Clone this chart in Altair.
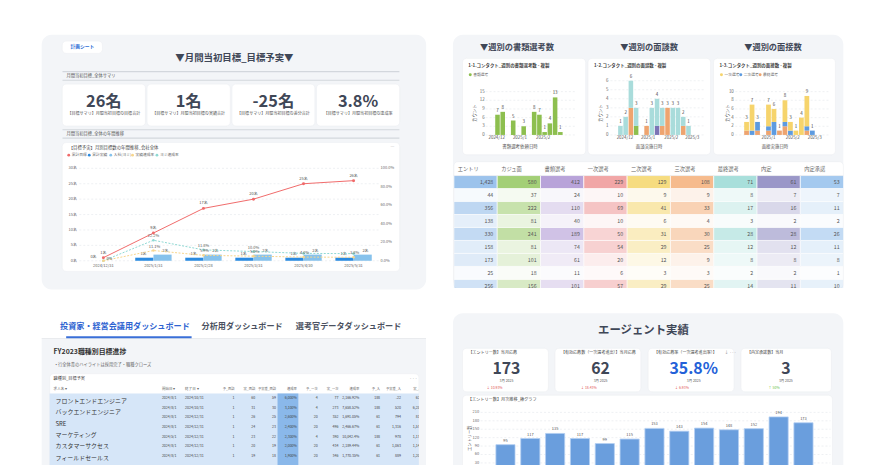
import altair as alt
import pandas as pd

# ============================================================ data
tl_kpi_values = ["26名", "1名", "-25名", "3.8%"]
tl_kpi_labels = ["【目標サマリ】月間当初目標の目標合計", "【目標サマリ】月間当初目標の実績合計",
                 "【目標サマリ】月間当初目標の差分合計", "【目標サマリ】月間当初目標の達成率"]
tl_legend = ["累計目標", "累計実績", "入社(ヨミ)", "実績達成率", "ヨミ達成率"]
tl_legend_colors = ["#f06a6a", "#2b8be0", "#86c2ec", "#f7d58c", "#8fd9d3"]
tl_months = ["2024/12/31", "2025/1/31", "2025/2/28", "2025/3/31", "2025/4/30", "2025/5/31"]
tl_target = [1, 9, 17, 20, 25, 26]
tl_actual = [0, 1, 1, 1, 1, 1]
tl_yomi = [0, 2, 2, 2, 2, 2]
tl_actual_rate = [0.0, 11.1, 5.9, 5.0, 4.0, 3.8]
tl_yomi_rate = [0.0, 22.2, 11.8, 10.0, 8.0, 7.7]
tl_yomi_rate_shown = ["", "22.2%", "11.8%", "10.0%", "", ""]
tl_left_ticks = [0, 5, 10, 15, 20, 25, 30]
tl_right_ticks = [0, 20, 40, 60, 80, 100]

doc_weeks = ["2024-12-02", "2024-12-09", "2024-12-23", "2025-01-06", "2025-01-20",
             "2025-01-27", "2025-02-03", "2025-02-10", "2025-02-17", "2025-02-24"]
doc_counts = [7, 8, 5, 3, 8, 7, 1, 4, 13, 1]
doc_ticks = [0, 3, 6, 9, 12, 15]
doc_months = ["2024-12-01", "2025-01-01", "2025-02-01"]

meet_weeks = ["2024-11-25", "2024-12-02", "2024-12-09", "2024-12-16", "2024-12-30", "2025-01-06",
              "2025-01-13", "2025-01-20", "2025-01-27", "2025-02-03", "2025-02-10", "2025-02-17", "2025-02-24"]
meet_orange = [0, 0, 3, 0, 1, 0, 0, 1, 3, 0, 0, 1, 0]
meet_green = [0, 0, 0, 1, 0, 0, 0, 0, 0, 0, 0, 0, 0]
meet_purple = [0, 0, 0, 0, 0, 0, 1, 0, 0, 0, 0, 0, 0]
meet_teal = [1, 2, 3, 2, 0, 3, 3, 2, 0, 3, 3, 1, 1]
meet_ticks = [0, 1, 2, 3, 4, 5, 6]
meet_months = ["2024-12-01", "2025-01-01", "2025-02-01", "2025-03-01"]

intv_weeks = ["2024-12-04", "2024-12-11", "2024-12-18", "2025-01-01", "2025-01-08", "2025-01-15",
              "2025-01-22", "2025-01-29", "2025-02-05", "2025-02-12", "2025-02-19", "2025-02-26"]
intv_final = [1, 0, 1, 1, 0, 1, 2, 0, 0, 0, 1, 0]
intv_second = [0, 1, 2, 1, 3, 0, 1, 1, 0, 0, 1, 1]
intv_first = [2, 6, 0, 5, 3, 0, 5, 2, 1, 4, 7, 0]
intv_ticks = [0, 2, 4, 6, 8, 10]
intv_months = ["2025-01-01", "2025-02-01", "2025-03-01"]

tbl_cols = ["エントリ", "カジュ面", "書類選考", "一次選考", "二次選考", "三次選考", "最終選考", "内定", "内定承諾"]
tbl_colors = ["#9cc3ec", "#a3cf76", "#b8a3d9", "#f1a6a6", "#f6dc80", "#f6bb8d", "#a8dfdb", "#9a97c8", "#a4c9ef"]
tbl_rows = [
    [1428, 580, 412, 229, 129, 108, 71, 61, 53],
    [44, 37, 24, 10, 9, 9, 8, 7, 7],
    [356, 222, 110, 69, 41, 33, 17, 16, 11],
    [138, 81, 40, 10, 6, 4, 3, 2, 2],
    [330, 241, 189, 50, 31, 30, 28, 28, 26],
    [158, 81, 74, 54, 29, 25, 12, 12, 11],
    [173, 101, 61, 20, 12, 9, 8, 8, 8],
    [25, 18, 11, 6, 3, 3, 2, 2, 1],
    [256, 156, 101, 57, 29, 25, 14, 11, 10],
]

tabs = ["投資家・経営会議用ダッシュボード", "分析用ダッシュボード", "選考官データダッシュボード"]
job_names = ["フロントエンドエンジニア", "バックエンドエンジニア", "SRE", "マーケティング", "カスタマーサクセス", "フィールドセールス"]
job_start = ["2024/8/1", "2024/8/1", "2024/8/1", "2024/8/1", "2024/5/1", "2024/8/1", "2024/8/1"]
job_end = ["2024/10/31", "2024/10/31", "2024/12/31", "2024/12/31", "2024/12/31", "2024/12/31", "2024/12/31"]
job_headers = ["予_面談", "実_面談", "予実差_面談", "達成率", "予_一次", "実_一次", "達成率", "予_入", "予実差_入", "実_入"]
job_plan_int = ["1", "1", "1", "1", "1", "1", "1"]
job_act_int = ["60", "31", "26", "24", "23", "20", "19"]
job_diff_int = ["59", "30", "25", "23", "22", "19", "18"]
job_rate_int = ["6,000%", "3,100%", "2,600%", "2,400%", "2,300%", "2,000%", "1,900%"]
job_plan_1st = ["4", "4", "20", "20", "4", "20", "20"]
job_act_1st = ["77", "273", "352", "496", "390", "434", "346"]
job_rate_1st = ["2,166.92%", "7,658.52%", "1,691.05%", "2,466.67%", "10,042.4%", "2,189.44%", "1,770.35%"]
job_plan_hire = ["188", "188", "61", "61", "188", "61", "61"]
job_diff_hire = ["-22", "520", "794", "1,316", "978", "1,063", "889"]
job_act_hire = ["626", "6,256", "818", "1,572", "1,176", "1,146", "1,208"]

br_kpi_titles = ["【エントリー数】当月応募", "【有効応募数（一次選考進出）】当月応募",
                 "【有効応募率（一次選考進出率）】", "【内定承諾数】当月"]
br_kpi_values = ["173", "62", "35.8%", "3"]
br_kpi_period = ["3月 2025", "3月 2025", "3月 2025", "3月 2025"]
br_kpi_delta = ["↓ 10.93%", "↓ 18.43%", "↓ 6.93%", "↑ 50%"]
br_months = ["2024/3", "2024/4", "2024/5", "2024/6", "2024/7", "2024/8", "2024/9",
             "2024/10", "2024/11", "2024/12", "2025/1", "2025/2", "2025/3"]
br_values = [95, 117, 135, 117, 99, 115, 153, 143, 154, 148, 152, 194, 173]
br_ticks = [30, 60, 90, 120, 150, 180, 210]

# ============================================================ style / helpers
O = 8  # page margin


def p(v):
    return v - O


def tms(s):
    return pd.Timestamp(s).value // 10**6


PAGE = "#ffffff"
PANEL = "#f3f5f8"
CARD = "#ffffff"
DARK = "#3f4757"
FONT = "Noto Sans CJK JP"


def rect_layer(rows, fill, radius=0, stroke=None, sw=0.0):
    df = pd.DataFrame(rows, columns=["x", "y", "x2", "y2"]) - O
    kw = dict(fill=fill, cornerRadius=radius)
    if stroke:
        kw.update(stroke=stroke, strokeWidth=sw)
    else:
        kw.update(strokeWidth=0)
    return alt.Chart(df).mark_rect(**kw).encode(
        x=alt.X("x:Q", scale=None), x2="x2:Q", y=alt.Y("y:Q", scale=None), y2="y2:Q")


def text_layer(rows, align="left", weight="normal", baseline="middle", angle=0):
    df = pd.DataFrame(rows, columns=["x", "y", "t", "s", "c"])
    df["x"] = df["x"] - O
    df["y"] = df["y"] - O
    mk = dict(align=align, baseline=baseline, fontWeight=weight)
    if angle:
        mk["angle"] = angle
    return alt.Chart(df).mark_text(**mk).encode(
        x=alt.X("x:Q", scale=None), y=alt.Y("y:Q", scale=None), text="t:N",
        size=alt.Size("s:Q", scale=None), color=alt.Color("c:N", scale=None))


def dot_layer(rows):
    df = pd.DataFrame(rows, columns=["x", "y", "c", "s"])
    df["x"] = df["x"] - O
    df["y"] = df["y"] - O
    return alt.Chart(df).mark_circle(opacity=1).encode(
        x=alt.X("x:Q", scale=None), y=alt.Y("y:Q", scale=None),
        color=alt.Color("c:N", scale=None), size=alt.Size("s:Q", scale=None))


layers = []

# ============================================================ panels & cards
layers.append(rect_layer([(42, 33, 430, 290), (457, 33, 851, 290), (457, 314, 851, 480)], PANEL, radius=10))
layers.append(rect_layer([(42, 314, 430, 480)], CARD, radius=10))
layers.append(rect_layer([(42, 339.5, 430, 480)], PANEL))
layers.append(rect_layer([(42, 339, 430, 339.8)], "#e3e6ea"))
layers.append(rect_layer([(66.7, 337.2, 193.3, 339.3)], "#3a6fd8"))
tl_cards = [(62.7, 39.3, 103.3, 51.7), (62.7, 82.7, 146.7, 125), (148.3, 82.7, 232.3, 125),
            (234, 82.7, 317.7, 125), (319.3, 82.7, 403.3, 125), (62.7, 141.7, 403.3, 271.7)]
tr_cards = [(466.7, 56.7, 591, 154), (593.3, 56.7, 717, 154), (720, 56.7, 843, 154), (458, 161, 851, 289)]
br_cards = [(466.7, 349.3, 553.3, 393.3), (560, 349.3, 646.7, 393.3), (654, 349.3, 740.7, 393.3),
            (747.7, 349.3, 839, 393.3), (466.7, 396.7, 840, 480)]
bl_cards = [(50, 375, 422.7, 480)]
layers.append(rect_layer(tl_cards + tr_cards + br_cards + bl_cards, CARD, radius=4, stroke="#eceef2", sw=0.6))
layers.append(rect_layer([(63, 69.6, 403, 70.8), (63, 78.2, 403, 79.4),
                          (63, 128.2, 403, 129.4), (63, 136.6, 403, 137.8)], "#d3d7dd"))

# ============================================================ TL texts
kpi_cx = [(a[0] + a[2]) / 2 for a in tl_cards[1:5]]
layers.append(text_layer([(83, 45.6, "計画シート", 4.8, "#2f6fd6"),
                          (236.5, 56.5, "▼月間当初目標_目標予実▼", 9.5, DARK)]
                         + [(cx, 100.5, v, 16.5, DARK) for cx, v in zip(kpi_cx, tl_kpi_values)],
                         align="center", weight="bold"))
layers.append(text_layer([(cx, 113, t, 4.1, "#555") for cx, t in zip(kpi_cx, tl_kpi_labels)], align="center"))
layers.append(text_layer([(67, 74.3, "月間当初目標_全体サマリ", 4.3, "#555"),
                          (67, 132.8, "月間当初目標_全体の年間推移", 4.3, "#555"),
                          (69.3, 147.4, "【目標予実】月別目標数の年間推移_会社全体", 4.4, "#444"),
                          (394, 146.5, "—", 4.5, "#bbbbbb")]
                         + [(x + 3, 154.4, t, 3.8, "#666") for x, t in zip([69.3, 90, 111.7, 133.7, 158.3], tl_legend)]))
layers.append(dot_layer([(x, 154.4, c, 8) for x, c in zip([69.3, 90, 111.7, 133.7, 158.3], tl_legend_colors)]))

# ============================================================ TL chart
tl_df = pd.DataFrame({"m": tl_months, "target": tl_target, "actual": tl_actual, "yomi": tl_yomi,
                      "ar": tl_actual_rate, "yr": tl_yomi_rate})
tl_df["t_lbl"] = [f"{v}名" for v in tl_target]
tl_df["a_lbl"] = [f"{v}名" for v in tl_actual]
tl_df["y_lbl"] = [f"{v}名" if v else "" for v in tl_yomi]
tl_df["ar_lbl"] = [f"{v:.1f}%" if v else "0%" for v in tl_actual_rate]
tl_df["yr_lbl"] = tl_yomi_rate_shown

tl_xs = alt.Scale(domain=tl_months, range=[p(79), p(382)], paddingInner=0.27, paddingOuter=0.135)
tl_x = alt.X("m:N", axis=None, scale=tl_xs)
tl_yl = alt.Scale(domain=[0, 30], range=[p(261), p(167.7)], nice=False)
tl_yr = alt.Scale(domain=[0, 100], range=[p(261), p(167.7)], nice=False)

lt = pd.DataFrame({"v": tl_left_ticks, "lbl": [f"{v}名" for v in tl_left_ticks]})
rt = pd.DataFrame({"v": tl_right_ticks, "lbl": [f"{v:.1f}%" for v in tl_right_ticks]})
base_tl = alt.Chart(tl_df)
tl_left = alt.layer(
    alt.Chart(lt).mark_rule(color="#e2e5ea", strokeDash=[2, 2], strokeWidth=0.6).encode(
        y=alt.Y("v:Q", scale=tl_yl, axis=None), x=alt.value(p(80)), x2=alt.value(p(382))),
    alt.Chart(lt).mark_text(align="right", fontSize=4, color="#666").encode(
        y=alt.Y("v:Q", scale=tl_yl, axis=None), x=alt.value(p(77.5)), text="lbl:N"),
    base_tl.mark_text(fontSize=4, color="#555").encode(x=tl_x, y=alt.value(p(266)), text="m:N"),
    base_tl.mark_bar(color="#2b8be0", width=18.3, xOffset=-9.2).encode(
        x=tl_x, y=alt.Y("actual:Q", scale=tl_yl, axis=None)),
    base_tl.mark_bar(color="#86c2ec", width=18.3, xOffset=9.2).encode(
        x=tl_x, y=alt.Y("yomi:Q", scale=tl_yl, axis=None)),
    base_tl.mark_text(fontSize=4, color="#555", dx=-10, dy=-4).encode(
        x=tl_x, y=alt.Y("actual:Q", scale=tl_yl, axis=None), text="a_lbl:N"),
    base_tl.mark_text(fontSize=4, color="#555", dx=12, dy=-4).encode(
        x=tl_x, y=alt.Y("yomi:Q", scale=tl_yl, axis=None), text="y_lbl:N"),
    base_tl.mark_line(color="#f06a6a", strokeWidth=1,
                      point=alt.OverlayMarkDef(color="#f06a6a", size=9, filled=True)).encode(
        x=tl_x, y=alt.Y("target:Q", scale=tl_yl, axis=None)),
    base_tl.mark_text(fontSize=4, color="#555", dy=-5).encode(
        x=tl_x, y=alt.Y("target:Q", scale=tl_yl, axis=None), text="t_lbl:N"),
)
tl_right = alt.layer(
    alt.Chart(rt).mark_text(align="left", fontSize=4, color="#666").encode(
        y=alt.Y("v:Q", scale=tl_yr, axis=None), x=alt.value(p(384)), text="lbl:N"),
    base_tl.mark_line(color="#8fd9d3", strokeWidth=1, strokeDash=[2, 1.5],
                      point=alt.OverlayMarkDef(color="#8fd9d3", size=7, filled=True)).encode(
        x=tl_x, y=alt.Y("yr:Q", scale=tl_yr, axis=None)),
    base_tl.mark_line(color="#f7d58c", strokeWidth=1, strokeDash=[2, 1.5],
                      point=alt.OverlayMarkDef(color="#f7d58c", size=7, filled=True)).encode(
        x=tl_x, y=alt.Y("ar:Q", scale=tl_yr, axis=None)),
    base_tl.mark_text(fontSize=4, color="#555", dy=-4).encode(
        x=tl_x, y=alt.Y("yr:Q", scale=tl_yr, axis=None), text="yr_lbl:N"),
    base_tl.transform_filter("datum.ar > 0").mark_text(fontSize=4, color="#555", dy=-4, dx=1).encode(
        x=tl_x, y=alt.Y("ar:Q", scale=tl_yr, axis=None), text="ar_lbl:N"),
    base_tl.transform_filter("datum.ar == 0").mark_text(fontSize=4, color="#555", dy=-1.5, dx=6).encode(
        x=tl_x, y=alt.Y("ar:Q", scale=tl_yr, axis=None), text="ar_lbl:N"),
)
layers.append(alt.layer(tl_left, tl_right).resolve_scale(y="independent"))

# ============================================================ TR weekly charts
layers.append(text_layer([(521.7, 46.7, "▼週別の書類選考数", 8.3, DARK),
                          (655, 46.7, "▼週別の面談数", 8.3, DARK),
                          (780, 46.7, "▼週別の面接数", 8.3, DARK)], align="center", weight="bold"))
layers.append(text_layer([(472.5, 64.3, "1-1.コンタクト_週別の書類選考数 - 複製", 4.5, "#444"),
                          (599.5, 64.3, "1-2.コンタクト_週別の面談数 - 複製", 4.5, "#444"),
                          (726, 64.3, "1-3.コンタクト_週別の面接数 - 複製", 4.5, "#444")], weight="bold"))
layers.append(text_layer([(477.5, 73.3, "書類選考", 3.8, "#666"),
                          (731, 73.3, "一次選考", 3.8, "#666"),
                          (750.5, 73.3, "二次選考", 3.8, "#666"),
                          (770, 73.3, "最終選考", 3.8, "#666")]))
layers.append(dot_layer([(474.5, 73.3, "#8dbf4f", 9), (728, 73.3, "#f6d46c", 9),
                         (747.5, 73.3, "#5d9be0", 9), (767, 73.3, "#eea46f", 9)]))
layers.append(text_layer([(524.7, 146.6, "書類選考依頼日時", 4.5, "#555"),
                          (655, 146.6, "面談実施日時", 4.5, "#555"),
                          (782, 146.6, "面接実施日時", 4.5, "#555")], align="center"))
layers.append(text_layer([(479.3, 112, "カウント", 4.5, "#555"), (606, 112, "カウント", 4.5, "#555"),
                          (734.5, 112, "カウント", 4.5, "#555")], align="center", angle=270))


def weekly_axes(xs, ys, ticks, gx0, gx1, lbl_x, months):
    tdf = pd.DataFrame({"v": ticks})
    mdf = pd.DataFrame({"t": [tms(m) for m in months],
                        "lbl": [f"{m[:4]}/{int(m[5:7])}" for m in months]})
    return [
        alt.Chart(tdf).mark_rule(color="#e4e7eb", strokeDash=[2, 2], strokeWidth=0.6).encode(
            y=alt.Y("v:Q", scale=ys, axis=None), x=alt.value(p(gx0)), x2=alt.value(p(gx1))),
        alt.Chart(tdf).mark_text(align="right", fontSize=4.5, color="#666").encode(
            y=alt.Y("v:Q", scale=ys, axis=None), x=alt.value(p(lbl_x)), text="v:Q"),
        alt.Chart(mdf).mark_text(fontSize=4.5, color="#555").encode(
            x=alt.X("t:Q", scale=xs, axis=None), y=alt.value(p(137)), text="lbl:N"),
    ]


def stack_df(weeks, series):
    rows = []
    for k, (name, vals) in enumerate(series):
        for w, v in zip(weeks, vals):
            if v:
                rows.append({"t": tms(w), "s": name, "v": v, "k": k})
    return pd.DataFrame(rows)


def totals_df(weeks, series):
    return pd.DataFrame({"t": [tms(w) for w in weeks],
                         "tot": [sum(vals[i] for _, vals in series) for i in range(len(weeks))]})


# chart 1-1
d1_xs = alt.Scale(domain=[tms("2024-11-25"), tms("2025-03-03")], range=[p(491.7), p(575.7)], nice=False, zero=False)
d1_ys = alt.Scale(domain=[0, 15], range=[p(134), p(90.3)], nice=False)
d1 = pd.DataFrame({"t": [tms(w) for w in doc_weeks], "v": doc_counts})
layers.append(alt.layer(
    *weekly_axes(d1_xs, d1_ys, doc_ticks, 490, 582, 489, doc_months),
    alt.Chart(d1).mark_bar(color="#8dbf4f", width=4.6).encode(
        x=alt.X("t:Q", scale=d1_xs, axis=None), y=alt.Y("v:Q", scale=d1_ys, axis=None)),
    alt.Chart(d1).mark_text(fontSize=4.5, color="#444", dy=-4).encode(
        x=alt.X("t:Q", scale=d1_xs, axis=None), y=alt.Y("v:Q", scale=d1_ys, axis=None), text="v:Q"),
))

# chart 1-2
meet_series = [("一次", meet_orange), ("書類", meet_green), ("内定", meet_purple), ("面談", meet_teal)]
d2_xs = alt.Scale(domain=[tms("2024-11-18"), tms("2025-03-03")], range=[p(615.75), p(705)], nice=False, zero=False)
d2_ys = alt.Scale(domain=[0, 6], range=[p(134), p(79.3)], nice=False)
d2 = stack_df(meet_weeks, meet_series)
d2t = totals_df(meet_weeks, meet_series)
layers.append(alt.layer(
    *weekly_axes(d2_xs, d2_ys, meet_ticks, 616, 712, 614, meet_months),
    alt.Chart(d2).mark_bar(width=4.6).encode(
        x=alt.X("t:Q", scale=d2_xs, axis=None),
        y=alt.Y("v:Q", scale=d2_ys, axis=None, stack="zero"),
        color=alt.Color("s:N", legend=None, scale=alt.Scale(
            domain=[n for n, _ in meet_series], range=["#eea46f", "#8dbf4f", "#7b74b6", "#a9dcdb"])),
        order=alt.Order("k:Q", sort="ascending")),
    alt.Chart(d2t).mark_text(fontSize=4.5, color="#444", dy=-4).encode(
        x=alt.X("t:Q", scale=d2_xs, axis=None), y=alt.Y("tot:Q", scale=d2_ys, axis=None), text="tot:Q"),
))

# chart 1-3
intv_series = [("最終選考", intv_final), ("二次選考", intv_second), ("一次選考", intv_first)]
d3_xs = alt.Scale(domain=[tms("2024-11-27"), tms("2025-03-12")], range=[p(742.8), p(835.8)], nice=False, zero=False)
d3_ys = alt.Scale(domain=[0, 10], range=[p(134), p(90.3)], nice=False)
d3 = stack_df(intv_weeks, intv_series)
d3t = totals_df(intv_weeks, intv_series)
layers.append(alt.layer(
    *weekly_axes(d3_xs, d3_ys, intv_ticks, 742, 838, 740.5, intv_months),
    alt.Chart(d3).mark_bar(width=4.8).encode(
        x=alt.X("t:Q", scale=d3_xs, axis=None),
        y=alt.Y("v:Q", scale=d3_ys, axis=None, stack="zero"),
        color=alt.Color("s:N", legend=None, scale=alt.Scale(
            domain=[n for n, _ in intv_series], range=["#eea46f", "#5d9be0", "#f6d46c"])),
        order=alt.Order("k:Q", sort="ascending")),
    alt.Chart(d3t).mark_text(fontSize=4.5, color="#444", dy=-4).encode(
        x=alt.X("t:Q", scale=d3_xs, axis=None), y=alt.Y("tot:Q", scale=d3_ys, axis=None), text="tot:Q"),
))

# ============================================================ TR table
tbl_long = []
for r, row in enumerate(tbl_rows):
    for c, v in enumerate(row):
        colmax = max(rr[c] for rr in tbl_rows[1:])
        op = 1.0 if r == 0 else 0.65 * v / colmax
        tbl_long.append({"r": r, "col": tbl_cols[c], "v": v, "lbl": f"{v:,}", "op": op})
tbl_df = pd.DataFrame(tbl_long)
tx = alt.Scale(domain=tbl_cols, range=[p(458), p(851.3)], paddingInner=0, paddingOuter=0)
ty = alt.Scale(domain=list(range(len(tbl_rows))), range=[p(175), p(175 + 13.1 * len(tbl_rows))],
               paddingInner=0, paddingOuter=0)
hdr = pd.DataFrame({"col": tbl_cols})
layers.append(alt.layer(
    alt.Chart(tbl_df).mark_rect(stroke="#ffffff", strokeWidth=0.7).encode(
        x=alt.X("col:N", scale=tx, axis=None), y=alt.Y("r:O", scale=ty, axis=None),
        color=alt.Color("col:N", legend=None, scale=alt.Scale(domain=tbl_cols, range=tbl_colors)),
        opacity=alt.Opacity("op:Q", scale=None)),
    alt.Chart(tbl_df).mark_text(align="right", dx=-4, fontSize=5.3, color="#555").encode(
        x=alt.X("col:N", scale=tx, axis=None, bandPosition=1), y=alt.Y("r:O", scale=ty, axis=None),
        text="lbl:N"),
    alt.Chart(hdr).mark_text(align="left", dx=4, fontSize=5.3, color="#666").encode(
        x=alt.X("col:N", scale=tx, axis=None, bandPosition=0), y=alt.value(p(168.3)), text="col:N"),
))
layers.append(rect_layer([(458, 174.6, 851, 175.2)], "#e6e8ec"))
layers.append(rect_layer([(851.5, 30, 890, 296), (452, 288.5, 862, 313.5)], PAGE))

# ============================================================ BL texts & table
layers.append(text_layer([(126, 328.3, tabs[0], 8.2, "#2f64d1"), (244.3, 328.3, tabs[1], 8.2, "#4b5160"),
                          (351.7, 328.3, tabs[2], 8.2, "#4b5160")], align="center", weight="bold"))
layers.append(text_layer([(54, 353.3, "FY2023職種別目標進捗", 7, "#333")], weight="bold"))
layers.append(text_layer([(56, 366, "•  行全体青のハイライトは採用完了・職種クローズ", 4.3, "#666"),
                          (54, 380.3, "職種別_目標予実", 4.2, "#444"),
                          (54, 390.7, "求人名 ▾", 3.6, "#666"),
                          (163.3, 390.7, "開始日 ▾", 3.6, "#666"),
                          (186.7, 390.7, "終了日 ▾", 3.6, "#666"),
                          (413, 379.5, "···", 5, "#aaa")]))
layers.append(rect_layer([(50, 395, 422.7, 480)], "#d6e6f8"))

job_keys = [f"c{i}" for i in range(len(job_headers))]
job_cols_data = [job_plan_int, job_act_int, job_diff_int, job_rate_int, job_plan_1st, job_act_1st,
                 job_rate_1st, job_plan_hire, job_diff_hire, job_act_hire]
jx = alt.Scale(domain=job_keys, range=[p(217), p(427)], paddingInner=0, paddingOuter=0)
jy = alt.Scale(domain=list(range(len(job_start))), range=[p(395), p(395 + 9.64 * len(job_start))],
               paddingInner=0, paddingOuter=0)
jn = alt.Scale(domain=job_names, range=[p(396.6), p(396.6 + 11.5 * len(job_names))], paddingInner=0, paddingOuter=0)
job_long = pd.DataFrame([{"k": job_keys[c], "r": r, "lbl": vals[r]}
                         for c, vals in enumerate(job_cols_data) for r in range(len(vals))])
job_hdr = pd.DataFrame({"k": job_keys, "h": job_headers})
job_dates = pd.DataFrame({"r": list(range(len(job_start))), "s": job_start, "e": job_end})
job_nm = pd.DataFrame({"n": job_names})
layers.append(alt.layer(
    alt.Chart(pd.DataFrame({"k": [job_keys[3]]})).mark_rect(color="#8ab8ea").encode(
        x=alt.X("k:N", scale=jx, axis=None), y=alt.value(p(395)), y2=alt.value(p(480))),
    alt.Chart(job_hdr).mark_text(align="right", dx=-1.5, fontSize=3.3, color="#666").encode(
        x=alt.X("k:N", scale=jx, axis=None, bandPosition=1), y=alt.value(p(390.7)), text="h:N"),
    alt.Chart(job_long).mark_text(align="right", dx=-1.5, fontSize=3.6, color="#444").encode(
        x=alt.X("k:N", scale=jx, axis=None, bandPosition=1), y=alt.Y("r:O", scale=jy, axis=None), text="lbl:N"),
    alt.Chart(job_dates).mark_text(align="left", fontSize=3.6, color="#444").encode(
        x=alt.value(p(163.3)), y=alt.Y("r:O", scale=jy, axis=None), text="s:N"),
    alt.Chart(job_dates).mark_text(align="left", fontSize=3.6, color="#444").encode(
        x=alt.value(p(186.7)), y=alt.Y("r:O", scale=jy, axis=None), text="e:N"),
))
layers.append(alt.Chart(job_nm).mark_text(align="left", fontSize=6, color="#333").encode(
    x=alt.value(p(56)), y=alt.Y("n:N", scale=jn, axis=None), text="n:N"))
layers.append(rect_layer([(422.7, 374, 430, 480)], PANEL))
layers.append(rect_layer([(430, 310, 457, 480)], PAGE))

# ============================================================ BR
br_cx = [511, 606, 700, 793]
layers.append(text_layer([(649.3, 331.7, "エージェント実績", 11.5, DARK)]
                         + [(cx, 369.8, v, 16, "#2361d8" if "%" in v else DARK) for cx, v in zip(br_cx, br_kpi_values)],
                         align="center", weight="bold"))
layers.append(text_layer([(c[0] + 6, 354.3, t, 4.1, "#444") for c, t in zip(br_cards[:4], br_kpi_titles)]
                         + [(472, 401.7, "【エントリー数】月次推移_棒グラフ", 4.2, "#444"),
                            (731, 354.3, "↓ ···", 4.1, "#888")]))
layers.append(text_layer([(cx, 382.2, t, 3.5, "#555") for cx, t in zip(br_cx, br_kpi_period)]
                         + [(cx - 12, 389.3, t, 3.5, "#6cbf4a" if "↑" in t else "#e25555")
                            for cx, t in zip(br_cx, br_kpi_delta)], align="center"))
layers.append(text_layer([(474, 440, "エントリー数", 4.3, "#555")], align="center", angle=270))

br_df = pd.DataFrame({"m": br_months, "v": br_values})
br_xs = alt.Scale(domain=br_months, range=[p(497.5), p(823.3)], paddingInner=0.23, paddingOuter=0.115)
br_ys = alt.Scale(domain=[0, 210], range=[p(473.5), p(414)], nice=False)
brt = pd.DataFrame({"v": br_ticks})
layers.append(alt.layer(
    alt.Chart(brt).mark_rule(color="#e2e5ea", strokeDash=[2, 2], strokeWidth=0.6).encode(
        y=alt.Y("v:Q", scale=br_ys, axis=None), x=alt.value(p(485)), x2=alt.value(p(838))),
    alt.Chart(brt).mark_text(align="right", fontSize=4, color="#666").encode(
        y=alt.Y("v:Q", scale=br_ys, axis=None), x=alt.value(p(483.5)), text="v:Q"),
    alt.Chart(br_df).mark_bar(color="#6a9edd", stroke="#b3cff2", strokeWidth=0.8).encode(
        x=alt.X("m:N", scale=br_xs, axis=None), y=alt.Y("v:Q", scale=br_ys, axis=None)),
    alt.Chart(br_df).mark_text(fontSize=4, color="#555", dy=-4).encode(
        x=alt.X("m:N", scale=br_xs, axis=None), y=alt.Y("v:Q", scale=br_ys, axis=None), text="v:Q"),
))

chart = alt.layer(*layers).properties(
    width=880, height=457, padding=0, background=PAGE,
    autosize=alt.AutoSizeParams(type="none"),
).resolve_scale(x="independent", y="independent", color="independent")
chart = chart.configure(font=FONT).configure_view(stroke=None)
chart.save("out.html", embed_options={"renderer": "svg", "actions": False})
